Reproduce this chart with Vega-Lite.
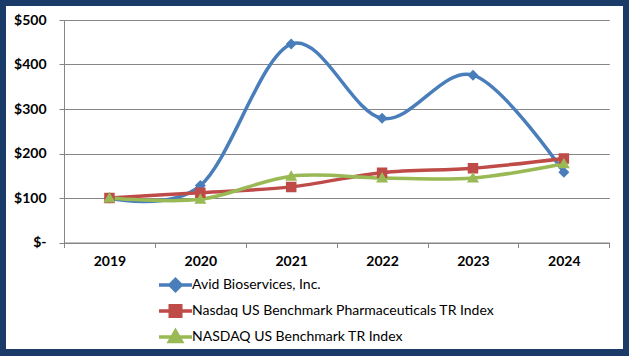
{
  "$schema": "https://vega.github.io/schema/vega-lite/v6.json",
  "width": 617,
  "height": 343,
  "autosize": {"type": "none"},
  "padding": {"left": 6, "top": 6, "right": 6, "bottom": 7},
  "background": "#1a3a68",
  "config": {
    "view": {"fill": "white", "stroke": null},
    "font": "Lato"
  },
  "data": {
    "values": [
      {"year": "2019", "series": "Avid Bioservices, Inc.", "value": 100},
      {"year": "2020", "series": "Avid Bioservices, Inc.", "value": 128},
      {"year": "2021", "series": "Avid Bioservices, Inc.", "value": 446},
      {"year": "2022", "series": "Avid Bioservices, Inc.", "value": 279},
      {"year": "2023", "series": "Avid Bioservices, Inc.", "value": 376},
      {"year": "2024", "series": "Avid Bioservices, Inc.", "value": 158},
      {"year": "2019", "series": "Nasdaq US Benchmark Pharmaceuticals TR Index", "value": 100},
      {"year": "2020", "series": "Nasdaq US Benchmark Pharmaceuticals TR Index", "value": 112},
      {"year": "2021", "series": "Nasdaq US Benchmark Pharmaceuticals TR Index", "value": 125},
      {"year": "2022", "series": "Nasdaq US Benchmark Pharmaceuticals TR Index", "value": 157},
      {"year": "2023", "series": "Nasdaq US Benchmark Pharmaceuticals TR Index", "value": 167},
      {"year": "2024", "series": "Nasdaq US Benchmark Pharmaceuticals TR Index", "value": 189},
      {"year": "2019", "series": "NASDAQ US Benchmark TR Index", "value": 100},
      {"year": "2020", "series": "NASDAQ US Benchmark TR Index", "value": 97},
      {"year": "2021", "series": "NASDAQ US Benchmark TR Index", "value": 149},
      {"year": "2022", "series": "NASDAQ US Benchmark TR Index", "value": 145},
      {"year": "2023", "series": "NASDAQ US Benchmark TR Index", "value": 145},
      {"year": "2024", "series": "NASDAQ US Benchmark TR Index", "value": 177}
    ]
  },
  "encoding": {
    "x": {
      "field": "year",
      "type": "ordinal",
      "scale": {"range": [58, 603.3], "paddingInner": 0, "paddingOuter": 0},
      "axis": {
        "title": null,
        "offset": -106.5,
        "tickBand": "extent",
        "tickSize": 5,
        "domainColor": "#868686",
        "tickColor": "#868686",
        "labelFont": "Lato",
        "labelFontWeight": "bold",
        "labelFontSize": 14,
        "labelColor": "#000000",
        "labelPadding": 7,
        "labelAngle": 0,
        "grid": false
      }
    },
    "y": {
      "field": "value",
      "type": "quantitative",
      "scale": {"domain": [0, 500], "range": [236.5, 14], "nice": false},
      "axis": {
        "title": null,
        "offset": -58,
        "values": [0, 100, 200, 300, 400, 500],
        "labelExpr": "datum.value == 0 ? '$-' : '$' + datum.value",
        "tickSize": 5,
        "grid": true,
        "gridColor": "#868686",
        "domainColor": "#868686",
        "tickColor": "#868686",
        "labelFont": "Lato",
        "labelFontWeight": "bold",
        "labelFontSize": 14,
        "labelColor": "#000000",
        "labelPadding": 13
      }
    },
    "color": {
      "field": "series",
      "type": "nominal",
      "scale": {
        "domain": ["Avid Bioservices, Inc.", "Nasdaq US Benchmark Pharmaceuticals TR Index", "NASDAQ US Benchmark TR Index"],
        "range": ["#4a7ebb", "#be4b48", "#98b954"]
      },
      "legend": {
        "title": null,
        "orient": "none",
        "legendX": 162.5,
        "legendY": 272,
        "direction": "vertical",
        "padding": 0,
        "labelFont": "Lato",
        "labelFontSize": 14,
        "labelColor": "#000000",
        "labelOffset": 9.5,
        "labelLimit": 500,
        "rowPadding": 0,
        "symbolSize": 100,
        "symbolStrokeWidth": 3.5,
        "encode": {
          "symbols": {
            "update": {
              "fill": {"scale": "color", "field": "value"},
              "stroke": {"scale": "color", "field": "value"},
              "strokeWidth": {"value": 3.5},
              "opacity": {"value": 1}
            }
          }
        }
      }
    }
  },
  "layer": [
    {
      "mark": {"type": "line", "interpolate": "cardinal", "strokeWidth": 3.5}
    },
    {
      "mark": {"type": "point", "filled": true, "size": 100, "strokeWidth": 0, "opacity": 1},
      "encoding": {
        "shape": {
          "field": "series",
          "type": "nominal",
          "scale": {
            "domain": ["Avid Bioservices, Inc.", "Nasdaq US Benchmark Pharmaceuticals TR Index", "NASDAQ US Benchmark TR Index"],
            "range": [
              "M-3.3,0H3.3M0,-1.1L1.1,0L0,1.1L-1.1,0Z",
              "M-3.3,0H3.3M-1.05,-1.05H1.05V1.05H-1.05Z",
              "M-3.3,0H3.3M0,-1.2L1.2,0.9H-1.2Z"
            ]
          },
          "legend": null
        }
      }
    }
  ]
}
